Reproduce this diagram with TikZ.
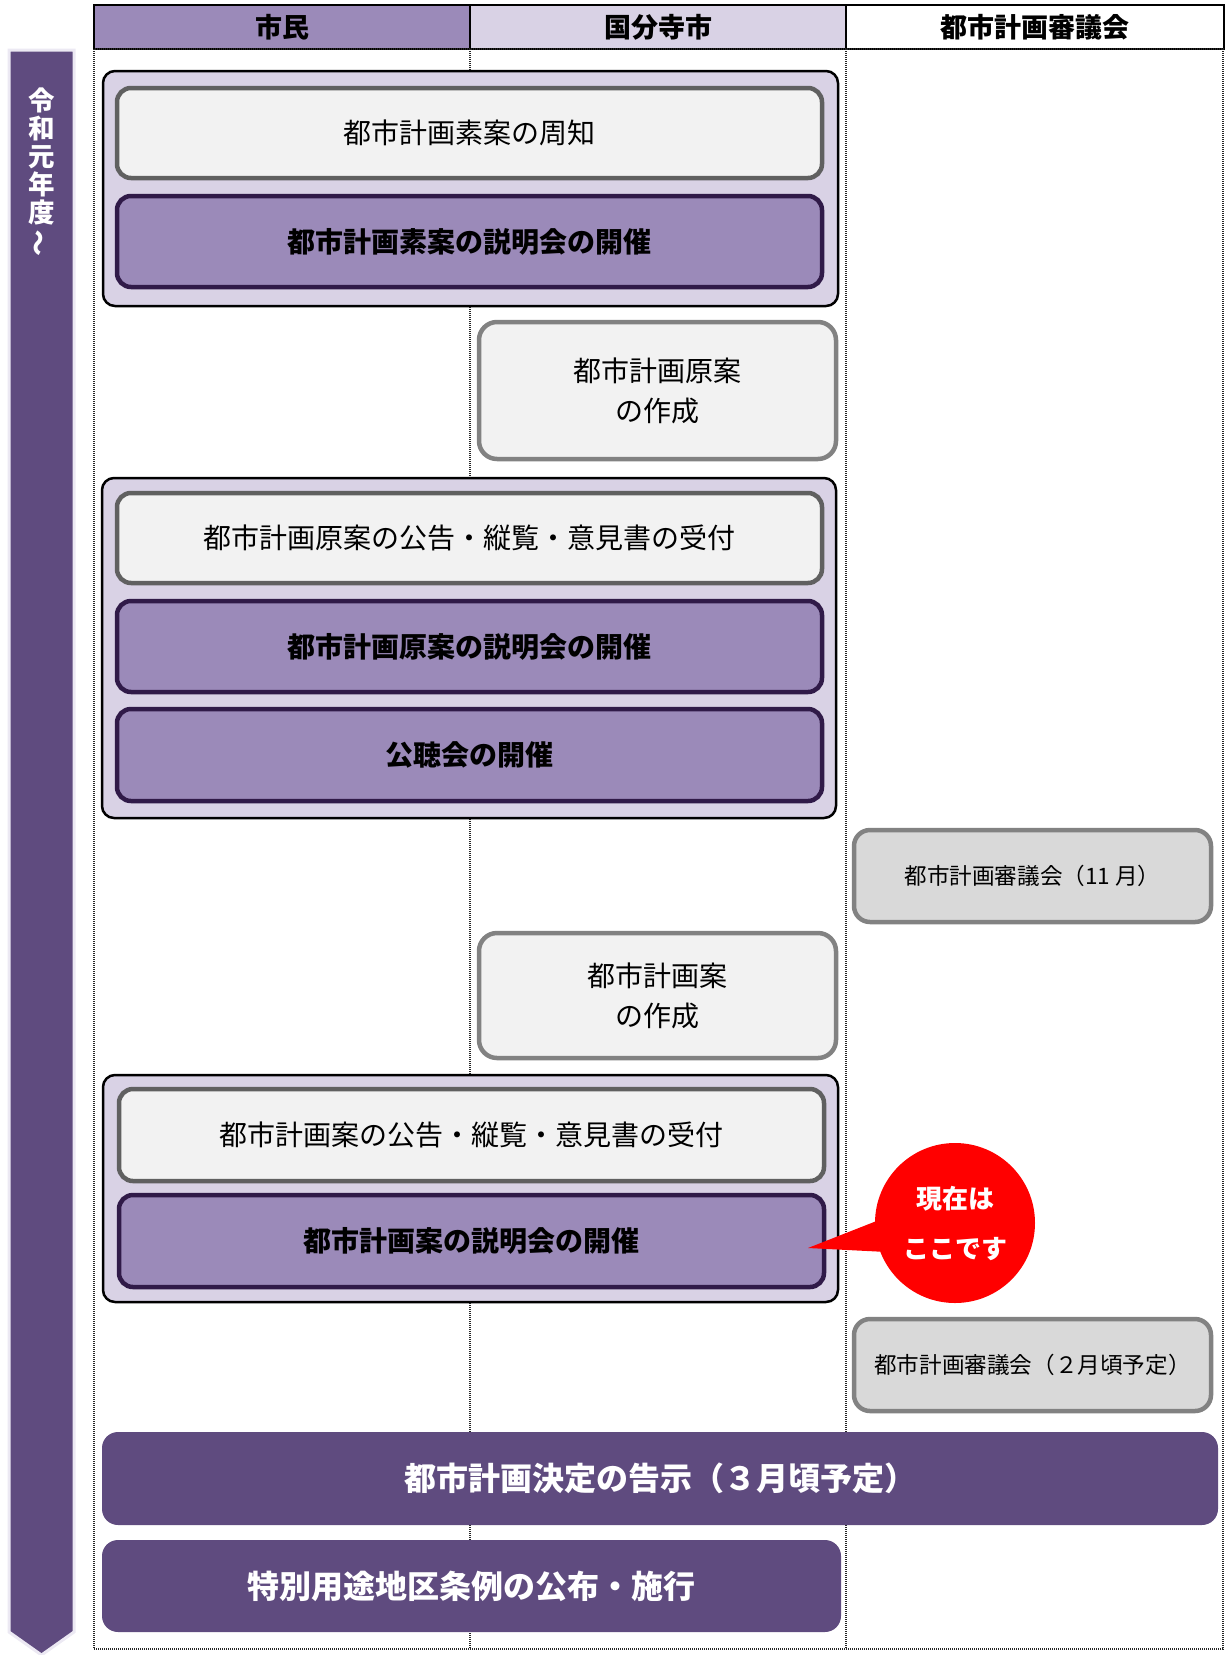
\documentclass[tikz,border=0pt]{standalone}
\usepackage{fontspec}
\setmainfont{Noto Sans CJK JP}
\definecolor{purpleA}{RGB}{155,138,185}
\definecolor{lav}{RGB}{217,210,229}
\definecolor{darkP}{RGB}{95,75,127}
\definecolor{borderP}{RGB}{48,26,72}
\definecolor{lightG}{RGB}{242,242,242}
\definecolor{gA}{RGB}{96,96,96}
\definecolor{gB}{RGB}{130,130,130}
\definecolor{gFill}{RGB}{217,217,217}
\definecolor{arrowEdge}{RGB}{236,233,243}
\newcommand\fsz[2]{\fontsize{#1}{#2}\selectfont}
\begin{document}
\begin{tikzpicture}[x=1pt,y=-1pt,
  every node/.style={inner sep=0pt, outer sep=0pt},
  hdr/.style={draw=black, line width=2pt, minimum height=44pt, font=\fsz{27}{30}\bfseries},
  grp/.style={draw=black, line width=2.5pt, fill=lav, rounded corners=12pt, minimum width=735pt},
  lbox/.style={draw=gA, fill=lightG, line width=4.5pt, rounded corners=14pt, minimum width=705pt, minimum height=90pt, font=\fsz{28}{34}},
  pbox/.style={draw=borderP, fill=purpleA, line width=4.5pt, rounded corners=14pt, minimum width=705pt, minimum height=91pt, font=\fsz{28}{34}\bfseries},
  cbox/.style={draw=gB, fill=lightG, line width=4.5pt, rounded corners=18pt, minimum width=357pt, align=center, font=\fsz{28}{40}},
  sbox/.style={draw=gB, fill=gFill, line width=4.5pt, rounded corners=16pt, minimum width=357pt, minimum height=92pt, font=\fsz{22.6}{26}},
  dbox/.style={fill=darkP, rounded corners=16pt, minimum height=93pt, text=white, font=\fsz{32}{36}\bfseries},
  grid/.style={black!85, line width=1.1pt, dash pattern=on 1pt off 1pt}
]
\useasboundingbox (0,0) rectangle (1225,1655);
% time arrow
\draw[fill=darkP, draw=arrowEdge, line width=3pt] (9,50) -- (74,50) -- (74,1632) -- (41.5,1655) -- (9,1632) -- cycle;
\node[text=white, align=center, font=\fsz{26.5}{28}\bfseries] (era) at (41.5,172) {令\\和\\元\\年\\度\\\rotatebox[origin=c]{90}{～}};
% header
\node[hdr, fill=purpleA, minimum width=376pt] (h1) at (282,27) {市民};
\node[hdr, fill=lav, minimum width=376pt] (h2) at (658,27) {国分寺市};
\node[hdr, fill=white, minimum width=378pt] (h3) at (1035,27) {都市計画審議会};
% dotted grid
\coordinate (gtl) at (94,49);
\coordinate (gbr) at (1223,1649);
\draw[grid] (gtl) rectangle (gbr);
\draw[grid] (470,49) -- (470,1649);
\draw[grid] (846,49) -- (846,1649);
% group 1
\node[grp, minimum height=235pt] (g1) at (470.5,188.5) {};
\node[lbox] (b1a) at (469.5,133) {都市計画素案の周知};
\node[pbox] (b1b) at (469.5,241.5) {都市計画素案の説明会の開催};
% draft creation
\node[cbox, minimum height=137pt] (b2) at (657.5,390.5) {都市計画原案\\の作成};
% group 2
\node[grp, minimum width=734pt, minimum height=340pt] (g2) at (469,648) {};
\node[lbox] (b3a) at (469.5,538) {都市計画原案の公告・縦覧・意見書の受付};
\node[pbox] (b3b) at (469.5,646.5) {都市計画原案の説明会の開催};
\node[pbox, minimum height=92pt] (b3c) at (469.5,755) {公聴会の開催};
% council 1
\node[sbox] (b4) at (1032.5,876) {都市計画審議会（11 月）};
% plan creation
\node[cbox, minimum height=125pt] (b5) at (657.5,995.5) {都市計画案\\の作成};
% group 3
\node[grp, minimum height=227pt] (g3) at (470.5,1188.5) {};
\node[lbox, minimum height=92pt] (b6a) at (471.5,1135) {都市計画案の公告・縦覧・意見書の受付};
\node[pbox, minimum height=92pt] (b6b) at (471.5,1241) {都市計画案の説明会の開催};
% callout
\node[circle, fill=red, minimum size=160pt, align=center, text=white, font=\fsz{26}{50}\bfseries] (callout) at (955,1223) {現在は\\ここです};
\coordinate (tailtip) at (808,1248);
\fill[red] (callout.179) -- (tailtip) -- (callout.201) -- cycle;
% council 2
\node[sbox] (b7) at (1032.5,1365) {都市計画審議会（２月頃予定）};
% final
\node[dbox, minimum width=1116pt] (b8) at (660,1478.5) {都市計画決定の告示（３月頃予定）};
\node[dbox, minimum width=739pt, minimum height=92pt] (b9) at (471.5,1586) {特別用途地区条例の公布・施行};
\end{tikzpicture}
\end{document}
